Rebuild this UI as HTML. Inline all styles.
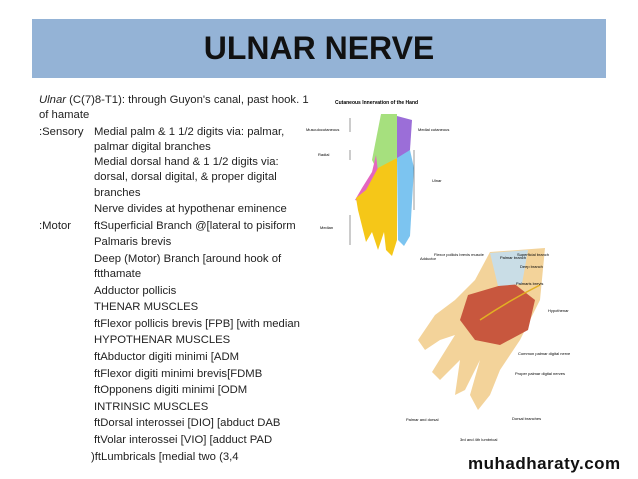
<!DOCTYPE html>
<html><head><style>
body{margin:0;width:638px;height:479px;background:#fff;position:relative;overflow:hidden;font-family:"Liberation Sans",sans-serif}
.band{position:absolute;left:32px;top:19px;width:574px;height:59px;background:#94b3d6}
.title{position:absolute;left:32px;width:574px;top:30px;text-align:center;font-weight:bold;font-size:32px;color:#111}
.t{position:absolute;font-size:11.3px;color:#222;white-space:nowrap}
</style></head><body>
<div class="band"></div>
<div class="title">ULNAR NERVE</div>
<div class="t" style="left:39px;top:94px"><i>Ulnar</i> (C(7)8-T1): through Guyon's canal, past hook. 1</div>
<div class="t" style="left:39px;top:109px">of hamate</div>
<div class="t" style="left:39px;top:126px">:Sensory</div>
<div class="t" style="left:94px;top:126px">Medial palm &amp; 1 1/2 digits via: palmar,</div>
<div class="t" style="left:94px;top:141px">palmar digital branches</div>
<div class="t" style="left:94px;top:156px">Medial dorsal hand &amp; 1 1/2 digits via:</div>
<div class="t" style="left:94px;top:171px">dorsal, dorsal digital, &amp; proper digital</div>
<div class="t" style="left:94px;top:187px">branches</div>
<div class="t" style="left:94px;top:203px">Nerve divides at hypothenar eminence</div>
<div class="t" style="left:39px;top:220px">:Motor</div>
<div class="t" style="left:94px;top:220px">ftSuperficial Branch @[lateral to pisiform</div>
<div class="t" style="left:94px;top:236px">Palmaris brevis</div>
<div class="t" style="left:94px;top:253px">Deep (Motor) Branch [around hook of</div>
<div class="t" style="left:94px;top:268px">ftthamate</div>
<div class="t" style="left:94px;top:285px">Adductor pollicis</div>
<div class="t" style="left:94px;top:301px">THENAR MUSCLES</div>
<div class="t" style="left:94px;top:318px">ftFlexor pollicis brevis [FPB] [with median</div>
<div class="t" style="left:94px;top:334px">HYPOTHENAR MUSCLES</div>
<div class="t" style="left:94px;top:351px">ftAbductor digiti minimi [ADM</div>
<div class="t" style="left:94px;top:368px">ftFlexor digiti minimi brevis[FDMB</div>
<div class="t" style="left:94px;top:384px">ftOpponens digiti minimi [ODM</div>
<div class="t" style="left:94px;top:401px">INTRINSIC MUSCLES</div>
<div class="t" style="left:94px;top:417px">ftDorsal interossei [DIO] [abduct DAB</div>
<div class="t" style="left:94px;top:434px">ftVolar interossei [VIO] [adduct PAD</div>
<div class="t" style="left:91px;top:451px">)ftLumbricals [medial two (3,4</div>

<svg style="position:absolute;left:0;top:0" width="638" height="479" font-family="Liberation Sans">
 <!-- upper hand -->
 <path d="M381 114 L397 114 L397 158 L378 172 L372 160 Z" fill="#a6e07e"/>
 <path d="M397 116 L412 120 L410 150 L397 162 Z" fill="#9b6ed8"/>
 <path d="M376 155 L372 172 L362 188 L355 200 L362 202 L378 172 Z" fill="#e466c0"/>
 <path d="M378 168 L397 158 L397 240 L392 256 L386 250 L384 232 L378 250 L372 232 L366 242 L362 226 L358 210 L356 198 L366 190 Z" fill="#f5c718"/>
 <path d="M397 158 L410 150 L414 168 L410 236 L404 246 L398 240 Z" fill="#7cc4f0"/>
 <g stroke="#333" stroke-width="0.5" fill="none"><path d="M350 118 v14 M350 150 v10 M414 150 v60 M350 215 v30"/></g>
 <text x="335" y="104" font-size="5" font-weight="bold">Cutaneous Innervation of the Hand</text>
 <text x="306" y="131" font-size="4">Musculocutaneous</text>
 <text x="318" y="156" font-size="4">Radial</text>
 <text x="418" y="131" font-size="4">Medial cutaneous</text>
 <text x="432" y="182" font-size="4">Ulnar</text>
 <text x="320" y="229" font-size="4">Median</text>
 <!-- lower hand -->
 <path d="M490 252 L545 248 L540 300 L520 340 L500 370 L490 395 L478 410 L470 395 L480 360 L465 390 L455 395 L460 360 L440 380 L432 372 L455 335 L440 340 L425 350 L418 340 L435 315 L455 300 L475 280 Z" fill="#f3d39a"/>
 <path d="M468 295 L512 282 L535 300 L528 330 L500 345 L475 340 L460 320 Z" fill="#c8573e"/>
 <path d="M490 253 L528 250 L522 284 L498 286 Z" fill="#c9dde6"/>
 <path d="M480 320 Q510 300 540 285" stroke="#e2b023" stroke-width="1.5" fill="none"/>
 <text x="434" y="256" font-size="4">Flexor pollicis brevis muscle</text>
 <text x="500" y="259" font-size="4">Palmar branch</text>
 <text x="517" y="256" font-size="4">Superficial branch</text>
 <text x="520" y="268" font-size="4">Deep branch</text>
 <text x="420" y="260" font-size="4">Adductor</text>
 <text x="516" y="285" font-size="4">Palmaris brevis</text>
 <text x="548" y="312" font-size="4">Hypothenar</text>
 <text x="518" y="355" font-size="4">Common palmar digital nerve</text>
 <text x="515" y="375" font-size="4">Proper palmar digital nerves</text>
 <text x="406" y="421" font-size="4">Palmar and dorsal</text>
 <text x="512" y="420" font-size="4">Dorsal branches</text>
 <text x="460" y="441" font-size="4">3rd and 4th lumbrical</text>
</svg>
<div style="position:absolute;left:468px;top:454px;font-size:17px;font-weight:bold;color:#111;letter-spacing:0.5px">muhadharaty.com</div>
</body></html>
